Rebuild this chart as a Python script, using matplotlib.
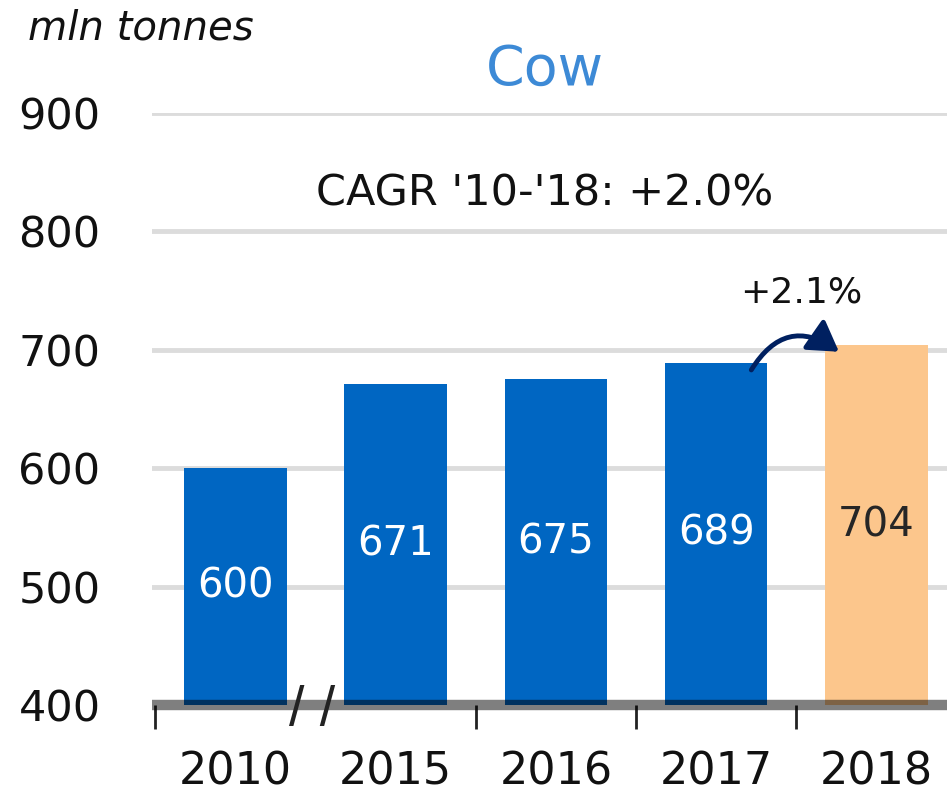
import matplotlib.pyplot as plt
from matplotlib.patches import FancyArrowPatch

years = ['2010', '2015', '2016', '2017', '2018']
values = [600, 671, 675, 689, 704]
bar_colors = ['#0066c2', '#0066c2', '#0066c2', '#0066c2', '#fcc68c']
label_colors = ['white', 'white', 'white', 'white', '#262626']
yticks = [400, 500, 600, 700, 800, 900]
title = 'Cow'
cagr_text = "CAGR '10-'18: +2.0%"
growth_text = '+2.1%'
unit_text = 'mln tonnes'

plt.rcParams['font.family'] = ['DejaVu Sans']

fig = plt.figure(figsize=(9.47, 7.97), dpi=100)
ax = fig.add_axes([0.1605, 0.1154, 0.8395, 0.7428])

x = list(range(len(years)))
ax.bar(x, [v - 400 for v in values], bottom=400, width=0.64,
       color=bar_colors, zorder=2)

for xi, v, c in zip(x, values, label_colors):
    ax.text(xi, (400 + v) / 2, str(v), ha='center', va='center',
            fontsize=29, color=c, zorder=3)

ax.set_xlim(-0.52, 4.44)
ax.set_ylim(400, 900)

# grid
for yv in yticks[1:]:
    ax.axhline(yv, color='#dcdcdc', lw=3.5, zorder=1)

# baseline (semi-transparent so bars show darker underneath)
ax.axhline(400, color='black', alpha=0.5, lw=7.5, zorder=4, clip_on=False,
           solid_capstyle='butt')

ax.set_yticks(yticks)
ax.set_yticklabels([str(t) for t in yticks], fontsize=31, color='#111111')
ax.tick_params(axis='y', length=0, pad=37)

ax.set_xticks(x)
ax.set_xticklabels(years, fontsize=32, color='#111111')
ax.tick_params(axis='x', which='major', length=0, pad=33)
ax.set_xticks([-0.5, 1.5, 2.5, 3.5], minor=True)
ax.tick_params(axis='x', which='minor', length=17, width=2,
               color='#222222', direction='out')

for s in ax.spines.values():
    s.set_visible(False)

# axis break mark
ax.text(0.48, 395, '/ /', ha='center', va='center', fontsize=40,
        family='Liberation Sans', color='#222222', zorder=5, clip_on=False)

# titles and notes
fig.text(0.575, 0.912, title, ha='center', va='center', fontsize=40,
         color='#3d8ad6')
ax.text(1.93, 832, cagr_text, ha='center', va='center', fontsize=31,
        color='#111111')
ax.text(3.53, 748, growth_text, ha='center', va='center', fontsize=26,
        color='#111111')
fig.text(0.03, 0.965, unit_text, ha='left', va='center', fontsize=29,
         style='italic', color='#111111')

arrow = FancyArrowPatch((3.21, 681), (3.78, 697),
                        connectionstyle='arc3,rad=-0.55',
                        arrowstyle='-|>,head_length=18,head_width=11',
                        color='#002060', lw=3.5, zorder=5)
ax.add_patch(arrow)

fig.savefig('out.png', dpi=100)
